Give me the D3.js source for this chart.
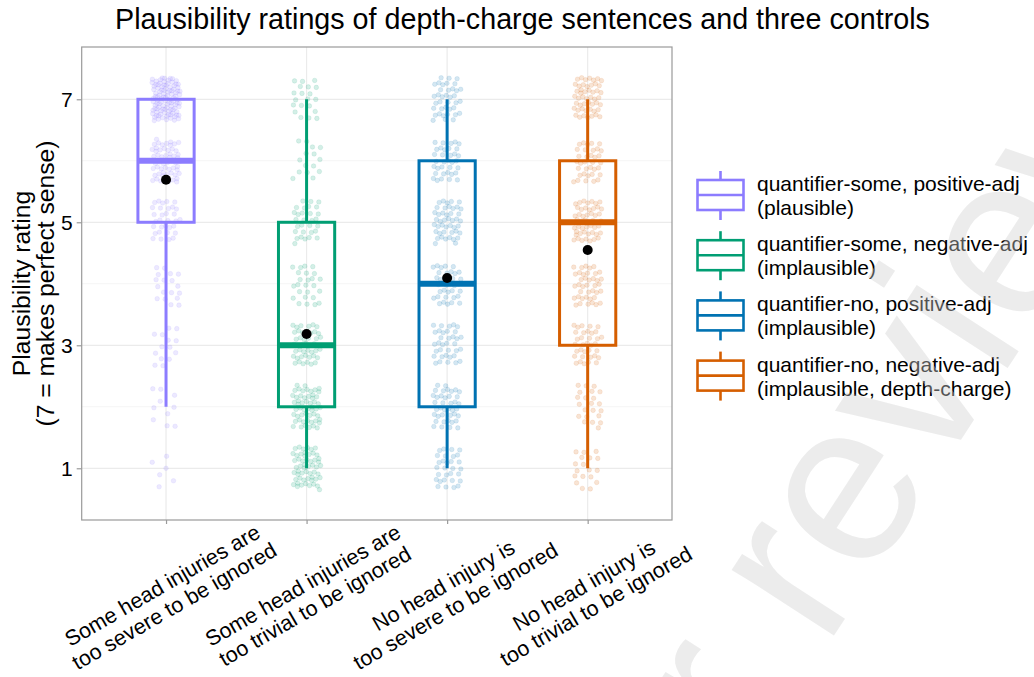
<!DOCTYPE html>
<html lang="en">
<head>
<meta charset="utf-8">
<title>Plausibility ratings</title>
<script src="https://d3js.org/d3.v7.min.js"></script>
<style>
  body { margin: 0; background: #fff; }
  text { font-family: "Liberation Sans", Arial, sans-serif; fill: #000; }
</style>
</head>
<body>
<div id="my_dataviz"></div>
<script>
// x categories (two-line tick labels)
const categories = [
  ["Some head injuries are", "too severe to be ignored"],
  ["Some head injuries are", "too trivial to be ignored"],
  ["No head injury is", "too severe to be ignored"],
  ["No head injury is", "too trivial to be ignored"]
];
const conditionNames = [
  ["quantifier-some, positive-adj", "(plausible)"],
  ["quantifier-some, negative-adj", "(implausible)"],
  ["quantifier-no, positive-adj", "(implausible)"],
  ["quantifier-no, negative-adj", "(implausible, depth-charge)"]
];
const colors = ["#8c7cff", "#009e73", "#0072b2", "#d55e00"];

// number of responses at each rating 1..7, per condition
const ratingLevels = [1, 2, 3, 4, 5, 6, 7];
const countsSomePositive = [6, 10, 14, 18, 32, 58, 105];
const countsSomeNegative = [55, 55, 45, 25, 30, 15, 20];
const countsNoPositive = [30, 40, 35, 35, 45, 35, 38];
const countsNoNegative = [18, 22, 35, 40, 50, 35, 50];
const yTicks = [1, 3, 5, 7];

const allCounts = [countsSomePositive, countsSomeNegative, countsNoPositive, countsNoNegative];

const W = 1034, H = 677;
const margin = { left: 81.7, right: 672, top: 47, bottom: 520 };

const svg = d3.select("#my_dataviz").append("svg")
  .attr("width", W).attr("height", H);

const x = d3.scalePoint().domain(d3.range(4)).range([margin.left, margin.right]).padding(0.6);
const y = d3.scaleLinear().domain([0.159, 7.85]).range([margin.bottom, margin.top]);
const step = x.step();

// grid
const grid = svg.append("g");
grid.selectAll(".minor").data([2, 4, 6]).join("line")
  .attr("x1", margin.left).attr("x2", margin.right)
  .attr("y1", d => y(d)).attr("y2", d => y(d))
  .attr("stroke", "#f2f2f2").attr("stroke-width", 0.8);
grid.selectAll(".major").data(yTicks).join("line")
  .attr("x1", margin.left).attr("x2", margin.right)
  .attr("y1", d => y(d)).attr("y2", d => y(d))
  .attr("stroke", "#ebebeb").attr("stroke-width", 1.2);
grid.selectAll(".vmajor").data(d3.range(4)).join("line")
  .attr("x1", d => x(d)).attr("x2", d => x(d))
  .attr("y1", margin.top).attr("y2", margin.bottom)
  .attr("stroke", "#ebebeb").attr("stroke-width", 1.2);

// summary stats per condition
const groups = allCounts.map((counts, c) => {
  const vals = [];
  counts.forEach((n, i) => { for (let k = 0; k < n; k++) vals.push(ratingLevels[i]); });
  const q1 = d3.quantile(vals, 0.25), med = d3.quantile(vals, 0.5), q3 = d3.quantile(vals, 0.75);
  const iqr = q3 - q1;
  const lo = d3.min(vals.filter(v => v >= q1 - 1.5 * iqr));
  const hi = d3.max(vals.filter(v => v <= q3 + 1.5 * iqr));
  return { c, vals, q1, med, q3, lo, hi, mean: d3.mean(vals) };
});

// jittered points (quasi-random offsets, fixed)
const jitterW = 0.1, jitterH = 0.35;
const pts = svg.append("g");
groups.forEach(g => {
  pts.selectAll(null).data(g.vals).join("circle")
    .attr("cx", (d, i) => {
      const u = (0.5 + (i + g.c * 37) * 0.7548776662) % 1;
      return x(g.c) + (u * 2 - 1) * jitterW * step;
    })
    .attr("cy", (d, i) => {
      const v = (0.5 + (i + g.c * 37) * 0.5698402910) % 1;
      return y(d + (v * 2 - 1) * jitterH);
    })
    .attr("r", 2.3)
    .attr("fill", colors[g.c]).attr("fill-opacity", 0.17)
    .attr("stroke", colors[g.c]).attr("stroke-opacity", 0.17).attr("stroke-width", 0.6);
});

// boxplots
const boxW = 0.4 * step;
const boxes = svg.append("g").selectAll("g").data(groups).join("g");
boxes.append("line")
  .attr("x1", d => x(d.c)).attr("x2", d => x(d.c))
  .attr("y1", d => y(d.hi)).attr("y2", d => y(d.q3))
  .attr("stroke", d => colors[d.c]).attr("stroke-width", 3);
boxes.append("line")
  .attr("x1", d => x(d.c)).attr("x2", d => x(d.c))
  .attr("y1", d => y(d.q1)).attr("y2", d => y(d.lo))
  .attr("stroke", d => colors[d.c]).attr("stroke-width", 3);
boxes.append("rect")
  .attr("x", d => x(d.c) - boxW / 2).attr("width", boxW)
  .attr("y", d => y(d.q3)).attr("height", d => y(d.q1) - y(d.q3))
  .attr("fill", "none").attr("stroke", d => colors[d.c]).attr("stroke-width", 3);
boxes.append("line")
  .attr("x1", d => x(d.c) - boxW / 2).attr("x2", d => x(d.c) + boxW / 2)
  .attr("y1", d => y(d.med)).attr("y2", d => y(d.med))
  .attr("stroke", d => colors[d.c]).attr("stroke-width", 6);
boxes.append("circle")
  .attr("cx", d => x(d.c)).attr("cy", d => y(d.mean)).attr("r", 5)
  .attr("fill", "#000");

// panel border
svg.append("rect")
  .attr("x", margin.left).attr("y", margin.top)
  .attr("width", margin.right - margin.left).attr("height", margin.bottom - margin.top)
  .attr("fill", "none").attr("stroke", "#9a9a9a").attr("stroke-width", 1.2);

// y axis
const yAxis = svg.append("g").attr("transform", `translate(${margin.left},0)`)
  .call(d3.axisLeft(y).tickValues(yTicks).tickSize(5).tickPadding(4).tickFormat(d3.format("d")));
yAxis.select(".domain").remove();
yAxis.selectAll(".tick line").attr("stroke", "#9a9a9a").attr("stroke-width", 1.2);
yAxis.selectAll(".tick text").attr("font-size", 21).attr("fill", "#111")
  .attr("font-family", "Liberation Sans, Arial, sans-serif").attr("dy", "0.36em");

// x axis
const xAxis = svg.append("g").attr("transform", `translate(0,${margin.bottom})`)
  .call(d3.axisBottom(x).tickSize(4).tickFormat(""));
xAxis.select(".domain").remove();
xAxis.selectAll(".tick line").attr("stroke", "#9a9a9a").attr("stroke-width", 1.2);

svg.append("g").selectAll("text").data(categories).join("text")
  .attr("transform", (d, i) => `translate(${x(i) + 3},597) rotate(-30)`)
  .attr("text-anchor", "middle").attr("font-size", 21.5)
  .selectAll("tspan").data(d => d).join("tspan")
  .attr("x", 0).attr("y", (d, j) => -6 + j * 24)
  .text(d => d);

// axis title
svg.append("text")
  .attr("transform", `translate(0,${(margin.top + margin.bottom) / 2}) rotate(-90)`)
  .attr("text-anchor", "middle").attr("font-size", 24.7)
  .selectAll("tspan").data(["Plausibility rating", "(7 = makes perfect sense)"]).join("tspan")
  .attr("x", 0).attr("y", (d, j) => 29.5 + j * 24.5)
  .text(d => d);

// title
svg.append("text")
  .attr("x", 522.5).attr("y", 29)
  .attr("text-anchor", "middle").attr("font-size", 28.7)
  .text("Plausibility ratings of depth-charge sentences and three controls");

// legend
const legend = svg.append("g").selectAll("g").data(conditionNames).join("g")
  .attr("transform", (d, i) => `translate(0,${196 + i * 60.2})`);
legend.append("line").attr("x1", 720.5).attr("x2", 720.5).attr("y1", -25).attr("y2", 24)
  .attr("stroke", (d, i) => colors[i]).attr("stroke-width", 2.6);
legend.append("rect").attr("x", 697.5).attr("y", -16).attr("width", 46).attr("height", 30)
  .attr("fill", "#fff").attr("stroke", (d, i) => colors[i]).attr("stroke-width", 2.6);
legend.append("line").attr("x1", 697.5).attr("x2", 743.5).attr("y1", -1).attr("y2", -1)
  .attr("stroke", (d, i) => colors[i]).attr("stroke-width", 2.6);
legend.append("text").attr("font-size", 21)
  .selectAll("tspan").data(d => d).join("tspan")
  .attr("x", 757).attr("y", (d, j) => -5 + j * 24)
  .text(d => d);

// watermark
svg.append("text")
  .attr("transform", "translate(470,1196) rotate(-57)")
  .attr("font-size", 230)
  .style("fill", "#cfcfcf").attr("fill-opacity", 0.4)
  .text("under review");
</script>
</body>
</html>
